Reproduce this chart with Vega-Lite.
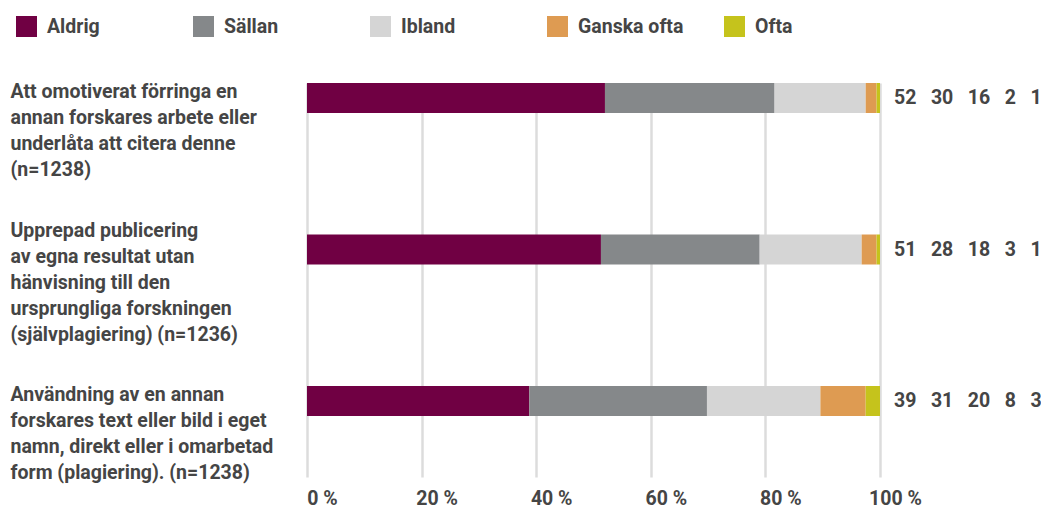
{
  "$schema": "https://vega.github.io/schema/vega-lite/v6.json",
  "autosize": "none",
  "padding": {"left": 307, "top": 83, "right": 161, "bottom": 33},
  "width": 573,
  "height": 394,
  "config": {
    "view": {"stroke": null},
    "font": "Roboto",
    "text": {"font": "Roboto"}
  },
  "datasets": {
    "seg": [
      {"fraga": "Att omotiverat förringa en|annan forskares arbete eller|underlåta att citera denne|(n=1238)", "svar": "Aldrig", "andel": 52.0},
      {"fraga": "Att omotiverat förringa en|annan forskares arbete eller|underlåta att citera denne|(n=1238)", "svar": "Sällan", "andel": 29.6},
      {"fraga": "Att omotiverat förringa en|annan forskares arbete eller|underlåta att citera denne|(n=1238)", "svar": "Ibland", "andel": 15.9},
      {"fraga": "Att omotiverat förringa en|annan forskares arbete eller|underlåta att citera denne|(n=1238)", "svar": "Ganska ofta", "andel": 1.9},
      {"fraga": "Att omotiverat förringa en|annan forskares arbete eller|underlåta att citera denne|(n=1238)", "svar": "Ofta", "andel": 0.6},
      {"fraga": "Upprepad publicering|av egna resultat utan|hänvisning till den|ursprungliga forskningen|(självplagiering) (n=1236)", "svar": "Aldrig", "andel": 51.3},
      {"fraga": "Upprepad publicering|av egna resultat utan|hänvisning till den|ursprungliga forskningen|(självplagiering) (n=1236)", "svar": "Sällan", "andel": 27.7},
      {"fraga": "Upprepad publicering|av egna resultat utan|hänvisning till den|ursprungliga forskningen|(självplagiering) (n=1236)", "svar": "Ibland", "andel": 17.8},
      {"fraga": "Upprepad publicering|av egna resultat utan|hänvisning till den|ursprungliga forskningen|(självplagiering) (n=1236)", "svar": "Ganska ofta", "andel": 2.6},
      {"fraga": "Upprepad publicering|av egna resultat utan|hänvisning till den|ursprungliga forskningen|(självplagiering) (n=1236)", "svar": "Ofta", "andel": 0.6},
      {"fraga": "Användning av en annan|forskares text eller bild i eget|namn, direkt eller i omarbetad|form (plagiering). (n=1238)", "svar": "Aldrig", "andel": 38.8},
      {"fraga": "Användning av en annan|forskares text eller bild i eget|namn, direkt eller i omarbetad|form (plagiering). (n=1238)", "svar": "Sällan", "andel": 31.0},
      {"fraga": "Användning av en annan|forskares text eller bild i eget|namn, direkt eller i omarbetad|form (plagiering). (n=1238)", "svar": "Ibland", "andel": 19.8},
      {"fraga": "Användning av en annan|forskares text eller bild i eget|namn, direkt eller i omarbetad|form (plagiering). (n=1238)", "svar": "Ganska ofta", "andel": 7.9},
      {"fraga": "Användning av en annan|forskares text eller bild i eget|namn, direkt eller i omarbetad|form (plagiering). (n=1238)", "svar": "Ofta", "andel": 2.5}
    ],
    "tot": [
      {"fraga": "Att omotiverat förringa en|annan forskares arbete eller|underlåta att citera denne|(n=1238)", "etikett": "52\u00a0\u00a0 30\u00a0\u00a0 16\u00a0\u00a0 2\u00a0\u00a0 1"},
      {"fraga": "Upprepad publicering|av egna resultat utan|hänvisning till den|ursprungliga forskningen|(självplagiering) (n=1236)", "etikett": "51\u00a0\u00a0 28\u00a0\u00a0 18\u00a0\u00a0 3\u00a0\u00a0 1"},
      {"fraga": "Användning av en annan|forskares text eller bild i eget|namn, direkt eller i omarbetad|form (plagiering). (n=1238)", "etikett": "39\u00a0\u00a0 31\u00a0\u00a0 20\u00a0\u00a0 8\u00a0\u00a0 3"}
    ]
  },
  "layer": [
    {
      "data": {"name": "seg"},
      "transform": [
        {"calculate": "indexof(['Aldrig','Sällan','Ibland','Ganska ofta','Ofta'], datum.svar)", "as": "ord"}
      ],
      "mark": {"type": "bar"},
      "encoding": {
        "y": {
          "field": "fraga", "type": "nominal", "sort": null,
          "scale": {"paddingInner": 0.802, "paddingOuter": 0.2013, "align": 0},
          "axis": {
            "title": null, "domain": false, "ticks": false, "grid": false,
            "labelExpr": "split(datum.label, '|')",
            "labelAlign": "left", "labelBaseline": "middle", "labelPadding": 297,
            "labelOffset": {"condition": {"test": "indexof(datum.value, 'Upprepad') === 0", "value": -19}, "value": -6},
            "labelLineHeight": 26, "labelLimit": 400,
            "labelFont": "Roboto", "labelFontSize": 19.5, "labelFontWeight": "bold", "labelColor": "#454545"
          }
        },
        "x": {
          "field": "andel", "type": "quantitative", "stack": "zero",
          "scale": {"domain": [0, 100], "nice": false},
          "axis": {
            "title": null, "domain": false, "ticks": false,
            "values": [0, 20, 40, 60, 80, 100],
            "labelExpr": "datum.value + ' %'",
            "grid": true, "gridColor": "#dcdcdc", "gridWidth": 2.5,
            "labelPadding": 12, "labelOffset": 15, "labelBaseline": "top",
            "labelFont": "Roboto", "labelFontSize": 19.5, "labelFontWeight": "bold", "labelColor": "#454545",
            "labelFlush": false
          }
        },
        "color": {
          "field": "svar", "type": "nominal",
          "sort": ["Aldrig", "Sällan", "Ibland", "Ganska ofta", "Ofta"],
          "scale": {
            "domain": ["Aldrig", "Sällan", "Ibland", "Ganska ofta", "Ofta"],
            "range": ["#700043", "#85888a", "#d5d5d5", "#de9b52", "#c5c31c"]
          },
          "legend": {
            "title": null, "orient": "none", "legendX": -291, "legendY": -67,
            "direction": "horizontal", "columns": 5, "gridAlign": "all",
            "columnPadding": 40, "padding": 0,
            "symbolType": "square", "symbolSize": 441, "symbolStrokeWidth": 0,
            "labelOffset": 10, "labelFont": "Roboto", "labelFontSize": 19.5,
            "labelFontWeight": "bold", "labelColor": "#454545", "labelLimit": 300
          }
        },
        "order": {"field": "ord", "type": "quantitative"}
      }
    },
    {
      "data": {"name": "tot"},
      "mark": {"type": "text", "align": "left", "baseline": "middle", "dx": 14, "fontSize": 19.5, "fontWeight": "bold", "color": "#454545", "font": "Roboto"},
      "encoding": {
        "y": {"field": "fraga", "type": "nominal", "sort": null},
        "x": {"datum": 100},
        "text": {"field": "etikett"}
      }
    }
  ]
}
